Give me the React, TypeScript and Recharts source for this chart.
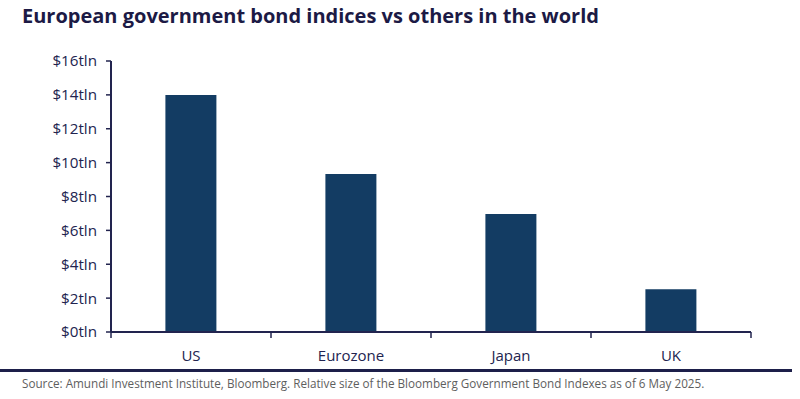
import { BarChart, Bar, XAxis, YAxis } from "recharts";

const regions = ["US", "Eurozone", "Japan", "UK"];
const sizeTln = [14.0, 9.33, 6.97, 2.52];
const yTicks = [0, 2, 4, 6, 8, 10, 12, 14, 16];

const data = regions.map((name, i) => ({ name, value: sizeTln[i] }));

const navy = "#22244f";
const barColor = "#133c63";
const font = "'Open Sans', 'Noto Sans', sans-serif";

// category tick: label at the centre, tick marks on the band edges
function EdgeTick(props: any) {
  const { x, y, payload, index, visibleTicksCount, width } = props;
  const half = payload?.offset || width / visibleTicksCount / 2;
  const top = y - 18; // axis line sits tickSize + tickMargin above the label
  return (
    <g>
      <line x1={x - half} x2={x - half} y1={top} y2={top + 6} stroke={navy} strokeWidth={1.5} />
      {index === visibleTicksCount - 1 && (
        <line x1={x + half} x2={x + half} y1={top} y2={top + 6} stroke={navy} strokeWidth={1.5} />
      )}
      <text x={x} y={y} dy="0.71em" textAnchor="middle" fill={navy} fontSize={15} fontFamily={font}>
        {payload.value}
      </text>
    </g>
  );
}

export default function App() {
  return (
    <div style={{ position: "fixed", left: 0, top: 0, width: 800, height: 399, background: "#fff", fontFamily: font }}>
      <div style={{ position: "absolute", left: 22, top: 2, fontSize: 20, fontWeight: 700, color: "#1c1a45" }}>
        European government bond indices vs others in the world
      </div>
      <BarChart width={800} height={399} data={data} barCategoryGap="34%"
        margin={{ top: 61, right: 49, left: 0, bottom: 0 }}>
        <YAxis
          width={111}
          domain={[0, 16]}
          ticks={yTicks}
          tickFormatter={(v: number) => `$${v}tln`}
          tick={{ fill: navy, fontSize: 15.2, fontFamily: font }}
          axisLine={{ stroke: navy, strokeWidth: 2 }}
          tickLine={{ stroke: navy, strokeWidth: 1.5 }}
          tickSize={5}
          tickMargin={9}
          interval={0}
        />
        <XAxis
          dataKey="name"
          height={67}
          tick={<EdgeTick />}
          axisLine={{ stroke: navy, strokeWidth: 2 }}
          tickLine={false}
          tickMargin={12}
          interval={0}
        />
        <Bar dataKey="value" fill={barColor} isAnimationActive={false} />
      </BarChart>
      <div style={{ position: "absolute", left: 0, top: 369, width: 792, height: 3, background: "#1d1f4a" }} />
      <div style={{ position: "absolute", left: 22, top: 375, fontSize: 11.7, color: "#5e5e5e", fontFamily: font }}>
        Source: Amundi Investment Institute, Bloomberg. Relative size of the Bloomberg Government Bond Indexes as of 6 May 2025.
      </div>
    </div>
  );
}
